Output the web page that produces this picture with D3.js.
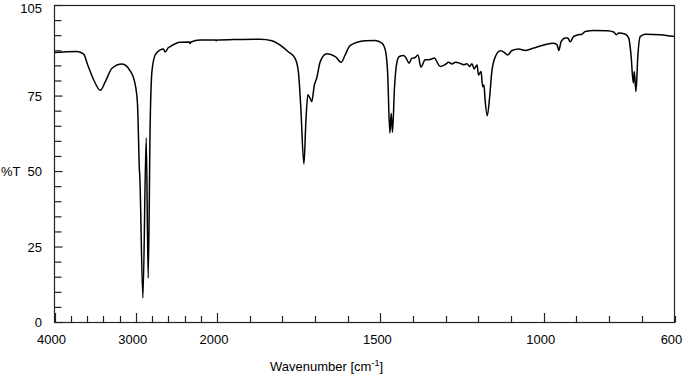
<!DOCTYPE html>
<html>
<head>
<meta charset="utf-8">
<script src="https://cdn.jsdelivr.net/npm/d3@7/dist/d3.min.js"></script>
<style>
  html, body { margin: 0; padding: 0; background: #fff; }
  svg { display: block; }
  text { font-family: Arial, "Liberation Sans", sans-serif; font-size: 13px; fill: #000; }
</style>
</head>
<body>
<svg id="chart" width="683" height="376"></svg>
<script>
// Wavenumbers (cm-1) and transmittance (%T)
const wavenumber = [4000,3886,3722,3640,3599,3518,3436,3374,3292,3169,3067,3006,2978,2966,2955,2951,2912,2871,2847,2822,2801,2761,2699,2660,2638,2600,2577,2454,2340,2331,2320,2209,2020,2010,2000,1950,1868,1832,1782,1761,1751,1744,1734,1728,1722,1716,1710,1702,1695,1684,1664,1638,1620,1608,1593,1547,1516,1495,1485,1478,1471,1467,1463,1457,1449,1442,1429,1422,1412,1404,1395,1385,1376,1363,1348,1334,1327,1317,1301,1291,1281,1270,1255,1245,1235,1227,1220,1213,1204,1200,1192,1187,1183,1180,1173,1166,1159,1148,1133,1121,1111,1097,1077,1056,1031,1000,970,959,954,947,934,927,919,909,894,883,873,847,806,786,778,771,750,740,733,726,723,718,712,705,689,643,600];
const transmittance = [89.4,89.6,89.8,88.9,85.9,80.4,76.9,79.8,84.2,85.6,83.3,78.7,72.1,61.1,50.5,48.9,8.1,61.1,14.7,66.6,83.1,88.6,90.3,90.6,89.6,91.0,91.4,92.8,92.9,92.4,92.9,93.6,93.6,93.3,93.6,93.7,93.8,93.3,89.7,87.5,83.1,72.1,52.5,66.6,75.4,74.5,73.2,78.7,80.9,86.4,89.0,88.1,86.2,88.6,91.7,93.3,93.4,92.5,90.3,83.1,62.7,69.3,63.0,77.6,86.4,88.1,88.4,87.7,85.9,87.5,87.7,88.6,84.6,87.0,87.1,87.6,86.3,84.8,85.5,86.2,85.6,86.2,85.8,85.4,85.7,84.8,85.7,84.0,85.3,82.0,83.1,78.1,78.7,74.3,68.5,74.3,83.1,88.1,90.0,89.5,88.6,90.1,90.6,90.1,90.9,91.9,92.5,91.9,90.1,93.0,94.2,94.2,93.0,94.7,95.3,95.5,96.4,96.7,96.6,96.2,95.3,95.9,95.5,94.2,88.6,79.3,83.1,76.5,88.6,94.7,95.5,95.3,94.7];

const xTickLabels = [4000, 3000, 2000, 1500, 1000, 600];
const yTickLabels = [0, 25, 50, 75, 105];
const xMinorTicks = d3.range(4000, 2000, -200).concat(d3.range(2000, 599, -100));
const yMinorTicks = d3.range(0, 106, 5);

const svg = d3.select("#chart");
const L = 54.5, R = 674.5, T = 5.5, B = 322.5;

const x = d3.scaleLinear().domain([4000, 2000, 600]).range([L, 217, R]);
const y = d3.scaleLinear().domain([0, 105]).range([B, T]);

// frame
svg.append("rect")
  .attr("x", L).attr("y", T).attr("width", R - L).attr("height", B - T)
  .attr("fill", "none").attr("stroke", "#222").attr("stroke-width", 1.2);

// x ticks (inward)
const xMajor = new Set([4000, 3000, 2000, 1500, 1000]);
svg.append("g").selectAll("line").data(xMinorTicks).join("line")
  .attr("x1", d => Math.round(x(d)) + 0.5).attr("x2", d => Math.round(x(d)) + 0.5)
  .attr("y1", B).attr("y2", d => B - (xMajor.has(d) ? 9.5 : 6.5))
  .attr("stroke", "#222").attr("stroke-width", 1.2);

// y ticks (inward)
const yMajor = new Set([0, 25, 50, 75]);
svg.append("g").selectAll("line").data(yMinorTicks).join("line")
  .attr("y1", d => y(d)).attr("y2", d => y(d))
  .attr("x1", L).attr("x2", d => L + (yMajor.has(d) ? 8 : 7))
  .attr("stroke", "#222").attr("stroke-width", 1.2);

// x labels
svg.append("g").selectAll("text").data(xTickLabels).join("text")
  .attr("x", d => x(d) - 3).attr("y", 344)
  .attr("text-anchor", "middle").text(d => d);

// y labels
svg.append("g").selectAll("text").data(yTickLabels).join("text")
  .attr("x", 42).attr("y", d => Math.max(y(d) + 4.7, 12.5))
  .attr("text-anchor", "end").text(d => d);

// axis titles
svg.append("text").attr("x", 1).attr("y", y(50) + 4.7).text("%T");
const xt = svg.append("text").attr("x", 270).attr("y", 371);
xt.append("tspan").text("Wavenumber [cm");
xt.append("tspan").attr("dy", -5).style("font-size", "9px").text("-1");
xt.append("tspan").attr("dy", 5).text("]");

// spectrum
const pts = wavenumber.map((w, i) => [w, transmittance[i]]);
const line = d3.line().x(d => x(d[0])).y(d => y(d[1])).curve(d3.curveMonotoneX);
svg.append("path").datum(pts)
  .attr("d", line).attr("fill", "none")
  .attr("stroke", "#000").attr("stroke-width", 1.5).attr("stroke-linejoin", "round");
</script>
</body>
</html>
